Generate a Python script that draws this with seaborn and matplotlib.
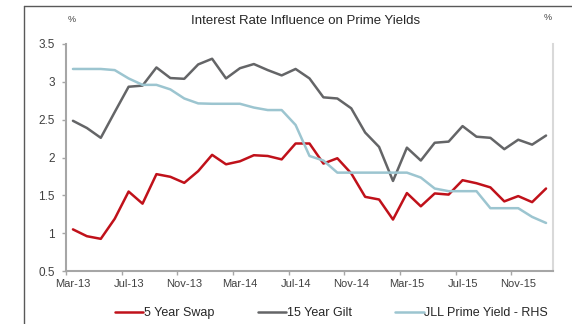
import matplotlib
matplotlib.use("Agg")
import matplotlib.pyplot as plt
import seaborn as sns
import pandas as pd
import numpy as np
from matplotlib.lines import Line2D

months = ["Mar-13","Apr-13","May-13","Jun-13","Jul-13","Aug-13","Sep-13","Oct-13","Nov-13","Dec-13",
          "Jan-14","Feb-14","Mar-14","Apr-14","May-14","Jun-14","Jul-14","Aug-14","Sep-14","Oct-14",
          "Nov-14","Dec-14","Jan-15","Feb-15","Mar-15","Apr-15","May-15","Jun-15","Jul-15","Aug-15",
          "Sep-15","Oct-15","Nov-15","Dec-15","Jan-16"]

swap5 = [1.05, 0.96, 0.925, 1.19, 1.55, 1.39, 1.78, 1.745, 1.665, 1.82,
         2.035, 1.91, 1.95, 2.03, 2.02, 1.975, 2.185, 2.185, 1.92, 1.99,
         1.79, 1.48, 1.445, 1.18, 1.53, 1.355, 1.525, 1.51, 1.70, 1.66,
         1.605, 1.42, 1.49, 1.41, 1.59]

gilt15 = [2.485, 2.39, 2.26, 2.60, 2.935, 2.95, 3.19, 3.05, 3.04, 3.23,
          3.305, 3.045, 3.18, 3.235, 3.155, 3.085, 3.17, 3.045, 2.795, 2.78,
          2.65, 2.33, 2.14, 1.69, 2.13, 1.96, 2.195, 2.21, 2.415, 2.275,
          2.26, 2.11, 2.235, 2.17, 2.29]

jll = [3.17, 3.17, 3.17, 3.155, 3.045, 2.96, 2.96, 2.90, 2.78, 2.715,
       2.71, 2.71, 2.71, 2.66, 2.627, 2.627, 2.43, 2.02, 1.96, 1.80,
       1.80, 1.80, 1.80, 1.80, 1.80, 1.735, 1.59, 1.555, 1.555, 1.555,
       1.33, 1.33, 1.33, 1.215, 1.135]

series_names = ["5 Year Swap", "15 Year Gilt", "JLL Prime Yield - RHS"]
colors = ["#C0111A", "#646567", "#9CC5D0"]
tick_labels = ["Mar-13","Jul-13","Nov-13","Mar-14","Jul-14","Nov-14","Mar-15","Jul-15","Nov-15"]

idx = np.arange(len(months))
df = pd.DataFrame({"idx": np.tile(idx, 3),
                   "value": swap5 + gilt15 + jll,
                   "series": np.repeat(series_names, len(months))})

sns.set_theme(style="white")
plt.rcParams['font.family'] = ['Liberation Sans', 'DejaVu Sans']

fig = plt.figure(figsize=(5.72, 3.24), dpi=100)
ax = fig.add_axes([66/572, 1-271/324, (553-66)/572, (271-44)/324])

sns.lineplot(data=df, x="idx", y="value", hue="series", hue_order=series_names,
             palette=colors, linewidth=1.8, ax=ax, legend=False)

ax.set_xlim(-0.5, len(months) - 0.5)
ax.set_ylim(0.5, 3.5)
ax.set_yticks([0.5, 1, 1.5, 2, 2.5, 3, 3.5])
ax.set_yticklabels(["0.5", "1", "1.5", "2", "2.5", "3", "3.5"])
ax.set_xlabel("")
ax.set_ylabel("")

# ticks between categories, labels on categories
ax.set_xticks(np.arange(-0.5, len(months) - 0.5, 4))
ax.set_xticklabels([])
ax.set_xticks(np.arange(0, len(months), 4), minor=True)
ax.set_xticklabels(tick_labels, minor=True)
ax.tick_params(axis="x", which="major", direction="out", length=3, color="#A6A6A6", width=1, bottom=True)
ax.tick_params(axis="x", which="minor", length=0, labelsize=8, labelcolor="#404040", pad=6, bottom=True)
ax.tick_params(axis="y", direction="out", length=3, color="#A6A6A6", width=1, labelsize=8.5,
               labelcolor="#404040", left=True, pad=5)

ax.spines["top"].set_visible(False)
ax.spines["left"].set_color("#A6A6A6")
ax.spines["bottom"].set_color("#A6A6A6")
ax.spines["right"].set_color("#D9D9D9")
for s in ["left", "bottom", "right"]:
    ax.spines[s].set_linewidth(1.5)

fig.text(306/572, 1-21/324, "Interest Rate Influence on Prime Yields", ha="center", va="center",
         fontsize=9.5, color="#262626")
fig.text(72/572, 1-20/324, "%", ha="center", va="center", fontsize=6.5, color="#404040")
fig.text(548/572, 1-17/324, "%", ha="center", va="center", fontsize=6.5, color="#404040")

handles = [Line2D([0], [0], color=c, lw=1.8) for c in colors]
fig.legend(handles, series_names, loc="center left", bbox_to_anchor=(115/572, 1-313/324), ncol=3,
           frameon=False, fontsize=9, handlelength=2.25, handletextpad=0.05, columnspacing=3.5,
           borderpad=0, borderaxespad=0, labelcolor="#262626")

# outer frame lines (top and left)
fig.add_artist(Line2D([24/572, 24/572], [0, 1-6/324], transform=fig.transFigure, color="#595959", lw=1.0))
fig.add_artist(Line2D([24/572, 1], [1-6/324, 1-6/324], transform=fig.transFigure, color="#595959", lw=1.0))

fig.savefig("out.png", dpi=100)
